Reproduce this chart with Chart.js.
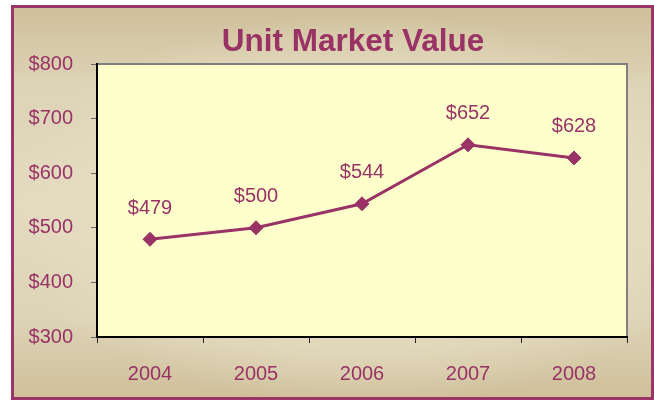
<!DOCTYPE html>
<html>
<head>
<meta charset="utf-8">
<script src="https://cdn.jsdelivr.net/npm/chart.js@4"></script>
<style>
  html, body { margin: 0; padding: 0; background: #fff; }
  #frame {
    position: absolute; left: 11px; top: 5px;
    width: 637px; height: 389px;
    border: 3px solid #9c3567;
    background:
      radial-gradient(ellipse 58% 50% at 55% 52%, #f0ead8 0%, #e6ddc3 55%, rgba(214,200,164,0) 100%),
      linear-gradient(#cfc09a, #ddd3b6 20%, #e3dac0 50%, #ddd3b6 80%, #cfc09a);
  }
  #wrap { position: absolute; left: 0; top: 0; width: 654px; height: 400px; }
</style>
</head>
<body>
<div id="frame"></div>
<div id="wrap"><canvas id="chart" width="654" height="400"></canvas></div>
<script>
(function() {
  'use strict';

  const chartTitle = 'Unit Market Value';
  const years = ['2004', '2005', '2006', '2007', '2008'];
  const unitValues = [479, 500, 544, 652, 628];
  const yTicks = [300, 400, 500, 600, 700, 800];

  const purple = '#993366';
  const fontFamily = '"Liberation Sans", Arial, sans-serif';

  // plot area fill, gray top/right edge, and the title (sits a bit right of centre)
  const plotBackground = {
    id: 'plotBackground',
    beforeDraw(chart) {
      const { ctx, chartArea: a } = chart;
      ctx.save();
      ctx.fillStyle = '#ffffcc';
      ctx.fillRect(a.left, a.top, a.right - a.left, a.bottom - a.top);
      ctx.strokeStyle = '#808080';
      ctx.lineWidth = 2;
      ctx.beginPath();
      ctx.moveTo(a.left, a.top);
      ctx.lineTo(a.right, a.top);
      ctx.lineTo(a.right, a.bottom);
      ctx.stroke();

      ctx.font = 'bold 31.5px ' + fontFamily;
      ctx.fillStyle = purple;
      ctx.textAlign = 'center';
      ctx.textBaseline = 'alphabetic';
      ctx.fillText(chartTitle, (a.left + a.right) / 2 - 9, a.top - 13);
      ctx.restore();
    }
  };

  // value labels above each point
  const valueLabels = {
    id: 'valueLabels',
    afterDatasetsDraw(chart) {
      const { ctx } = chart;
      const meta = chart.getDatasetMeta(0);
      ctx.save();
      ctx.font = '20px ' + fontFamily;
      ctx.fillStyle = purple;
      ctx.textAlign = 'center';
      ctx.textBaseline = 'middle';
      meta.data.forEach(function(pt, i) {
        ctx.fillText('$' + unitValues[i], pt.x, pt.y - 31);
      });
      ctx.restore();
    }
  };

  new Chart(document.getElementById('chart'), {
    type: 'line',
    data: {
      labels: years,
      datasets: [{
        data: unitValues,
        borderColor: purple,
        backgroundColor: purple,
        borderWidth: 3,
        pointStyle: 'rectRot',
        pointRadius: 7,
        pointBorderWidth: 1,
        pointBackgroundColor: purple,
        pointBorderColor: purple,
        tension: 0
      }]
    },
    options: {
      responsive: false,
      animation: false,
      events: [],
      layout: { padding: { left: 0, right: 27, top: 64, bottom: 0 } },
      plugins: {
        legend: { display: false },
        tooltip: { enabled: false },
        title: { display: false }
      },
      scales: {
        x: {
          type: 'category',
          offset: true,
          grid: {
            offset: true,
            drawOnChartArea: false,
            drawTicks: true,
            tickLength: 6,
            color: '#222'
          },
          border: { display: true, color: '#000', width: 2 },
          ticks: {
            color: purple,
            padding: 19,
            font: { family: fontFamily, size: 20 }
          },
          afterFit(scale) { scale.height = 63; }
        },
        y: {
          min: 300,
          max: 800,
          afterBuildTicks(scale) {
            scale.ticks = yTicks.map(v => ({ value: v }));
          },
          grid: {
            drawOnChartArea: false,
            drawTicks: true,
            tickLength: 6,
            color: '#666'
          },
          border: { display: true, color: '#000', width: 2 },
          ticks: {
            color: purple,
            padding: 18,
            font: { family: fontFamily, size: 20 },
            callback: v => '$' + v
          },
          afterFit(scale) { scale.width = 97; }
        }
      }
    },
    plugins: [plotBackground, valueLabels]
  });
})();
</script>
</body>
</html>
